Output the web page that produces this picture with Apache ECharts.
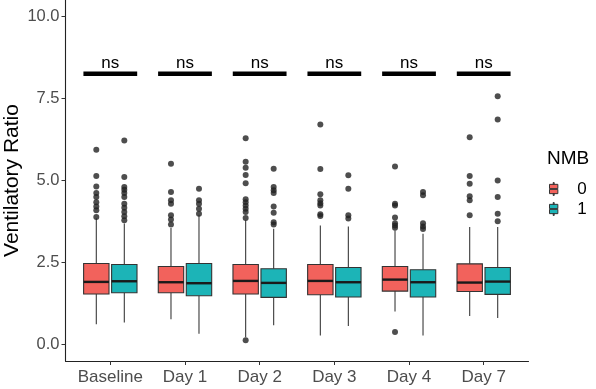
<!DOCTYPE html>
<html>
<head>
<meta charset="utf-8">
<script src="https://cdn.jsdelivr.net/npm/echarts@6/dist/echarts.min.js"></script>
<style>
  html, body { margin: 0; padding: 0; background: #fff; }
  #chart { width: 596px; height: 389px; }
</style>
</head>
<body>
<div id="chart"></div>
<script>
// categories on the x axis
var categories = ['Baseline', 'Day 1', 'Day 2', 'Day 3', 'Day 4', 'Day 7'];
var groups = ['0', '1'];

// [lower whisker, Q1, median, Q3, upper whisker] per category
var box0 = [
  [0.62, 1.54, 1.91, 2.47, 3.85],
  [0.77, 1.58, 1.90, 2.38, 3.55],
  [0.22, 1.54, 1.94, 2.44, 3.79],
  [0.28, 1.52, 1.94, 2.44, 3.63],
  [1.01, 1.63, 1.98, 2.38, 3.48],
  [0.87, 1.62, 1.89, 2.46, 3.58]
];
var box1 = [
  [0.67, 1.58, 1.93, 2.44, 3.69],
  [0.33, 1.49, 1.87, 2.47, 3.96],
  [0.59, 1.44, 1.88, 2.31, 3.53],
  [0.57, 1.45, 1.90, 2.35, 3.60],
  [0.28, 1.45, 1.90, 2.28, 3.38],
  [0.81, 1.53, 1.92, 2.35, 3.58]
];

// outlier points per category
var outliers0 = [
  [5.94, 5.14, 4.82, 4.62, 4.50, 4.34, 4.21, 4.09, 3.89],
  [5.51, 4.65, 4.40, 4.29, 3.94, 3.81, 3.66],
  [6.29, 5.57, 5.39, 5.17, 4.92, 4.43, 4.34, 4.24, 4.14, 4.04, 3.86, 0.13],
  [6.71, 5.35, 4.58, 4.40, 4.31, 4.24, 3.97, 3.92],
  [5.43, 4.29, 4.24, 3.87, 3.70, 3.63, 3.56, 0.38],
  [6.32, 5.14, 4.90, 4.52, 4.40, 3.94]
];
var outliers1 = [
  [6.22, 5.11, 4.80, 4.72, 4.62, 4.50, 4.29, 4.17, 4.04, 3.91, 3.79],
  [4.75, 4.40, 4.29, 4.14, 3.99],
  [5.36, 4.80, 4.70, 4.62, 4.21, 4.02, 3.73, 3.66],
  [5.16, 4.75, 3.94, 3.84],
  [4.65, 4.55, 3.70, 3.60, 3.52],
  [7.57, 6.86, 5.00, 4.50, 3.99, 3.76]
];

// significance labels and bracket height
var sigLabels = ['ns', 'ns', 'ns', 'ns', 'ns', 'ns'];
var sigLevel = 8.25;

var yTicks = [0, 2.5, 5, 7.5, 10];

var colors = ['#F2625C', '#1CB4B7'];
var dodge = 0.1875;
var halfBox = 0.17;
var font = 'Liberation Sans, Arial, sans-serif';

function boxData(rows) {
  return rows.map(function (r, i) { return [i].concat(r); });
}
function pointData(rows, off) {
  var out = [];
  rows.forEach(function (vals, i) {
    vals.forEach(function (v) { out.push([i + off, v]); });
  });
  return out;
}

function makeBoxRender(off, color) {
  return function (params, api) {
    var x = api.value(0) + off;
    var lo = api.coord([x, api.value(1)]);
    var q1 = api.coord([x, api.value(2)]);
    var md = api.coord([x, api.value(3)]);
    var q3 = api.coord([x, api.value(4)]);
    var hi = api.coord([x, api.value(5)]);
    var hw = api.size([halfBox, 0])[0];
    var wStyle = { stroke: '#3a3a3a', lineWidth: 1.1 };
    return {
      type: 'group',
      children: [
        { type: 'line', shape: { x1: lo[0], y1: lo[1], x2: q1[0], y2: q1[1] }, style: wStyle },
        { type: 'line', shape: { x1: q3[0], y1: q3[1], x2: hi[0], y2: hi[1] }, style: wStyle },
        { type: 'rect', shape: { x: q3[0] - hw, y: q3[1], width: hw * 2, height: q1[1] - q3[1] },
          style: { fill: color, stroke: '#333', lineWidth: 1.1 } },
        { type: 'line', shape: { x1: md[0] - hw, y1: md[1], x2: md[0] + hw, y2: md[1] },
          style: { stroke: '#1a1a1a', lineWidth: 2.4 } }
      ]
    };
  };
}

var chart = echarts.init(document.getElementById('chart'));

var option = {
  animation: false,
  backgroundColor: '#fff',
  title: {
    text: 'NMB',
    left: 547,
    top: 149,
    padding: 0,
    textStyle: { fontFamily: font, fontSize: 19, fontWeight: 'normal', color: '#000' }
  },
  legend: {
    data: groups,
    orient: 'vertical',
    left: 549,
    top: 180.5,
    padding: 0,
    itemWidth: 9,
    itemHeight: 13,
    itemGap: 3,
    icon: 'path://M4,0h1v2h-1z M0,2h9v4.6h-9z M0,7.4h9v4.6h-9z M4,12h1v2h-1z',
    itemStyle: { borderColor: '#333', borderWidth: 1 },
    textStyle: { fontFamily: font, fontSize: 17, color: '#000', padding: [0, 0, 0, 14] },
    selectedMode: false
  },
  grid: { left: 65.5, top: 0, width: 463, height: 361, outerBoundsMode: 'none' },
  xAxis: {
    type: 'value',
    min: -0.6,
    max: 5.6,
    splitLine: { show: false },
    axisLine: { onZero: false, lineStyle: { color: '#222', width: 1.1 } },
    axisTick: { customValues: [0, 1, 2, 3, 4, 5], length: 4, lineStyle: { color: '#333' } },
    axisLabel: {
      customValues: [0, 1, 2, 3, 4, 5],
      formatter: function (v) { return categories[Math.round(v)]; },
      fontFamily: font, fontSize: 17, color: '#4d4d4d', margin: 8
    }
  },
  yAxis: {
    type: 'value',
    min: -0.5,
    max: 10.5,
    name: 'Ventilatory Ratio',
    nameLocation: 'middle',
    nameRotate: 90,
    nameGap: 43,
    nameMoveOverlap: false,
    nameTextStyle: { fontFamily: font, fontSize: 21, color: '#000' },
    splitLine: { show: false },
    axisLine: { show: true, onZero: false, lineStyle: { color: '#222', width: 1.1 } },
    axisTick: { show: true, customValues: yTicks, length: 4, lineStyle: { color: '#333' } },
    axisLabel: {
      customValues: yTicks,
      formatter: function (v) { return v.toFixed(1); },
      fontFamily: font, fontSize: 16.5, color: '#4d4d4d', margin: 6
    }
  },
  series: [
    {
      name: groups[0], type: 'custom', itemStyle: { color: colors[0] },
      renderItem: makeBoxRender(-dodge, colors[0]),
      encode: { x: 0, y: [1, 2, 3, 4, 5] },
      data: boxData(box0), z: 2
    },
    {
      name: groups[1], type: 'custom', itemStyle: { color: colors[1] },
      renderItem: makeBoxRender(dodge, colors[1]),
      encode: { x: 0, y: [1, 2, 3, 4, 5] },
      data: boxData(box1), z: 2
    },
    {
      type: 'scatter', symbolSize: 6, itemStyle: { color: '#222' },
      data: pointData(outliers0, -dodge), z: 3
    },
    {
      type: 'scatter', symbolSize: 6, itemStyle: { color: '#222' },
      data: pointData(outliers1, dodge), z: 3
    },
    {
      type: 'custom',
      encode: { x: 0, y: 1 },
      data: sigLabels.map(function (s, i) { return [i, sigLevel]; }),
      renderItem: function (params, api) {
        var c = api.coord([api.value(0), api.value(1)]);
        var a = api.coord([api.value(0) - 0.36, api.value(1)]);
        var b = api.coord([api.value(0) + 0.36, api.value(1)]);
        return {
          type: 'group',
          children: [
            { type: 'line', shape: { x1: a[0], y1: a[1], x2: b[0], y2: b[1] },
              style: { stroke: '#000', lineWidth: 4.5 } },
            { type: 'text', x: c[0], y: c[1] - 11,
              style: { text: sigLabels[params.dataIndex], fontFamily: font, fontSize: 17,
                       fill: '#000', align: 'center', verticalAlign: 'middle' } }
          ]
        };
      }
    }
  ]
};

chart.setOption(option);
</script>
</body>
</html>
